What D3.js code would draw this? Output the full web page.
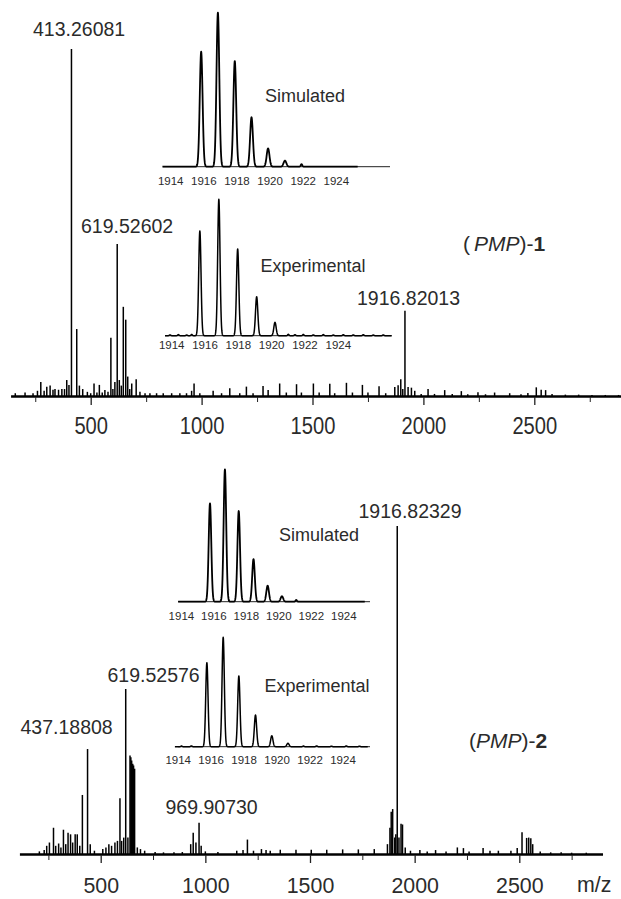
<!DOCTYPE html>
<html>
<head>
<meta charset="utf-8">
<script src="https://cdn.jsdelivr.net/npm/d3@7"></script>
<style>
  html, body { margin: 0; padding: 0; background: #fff; }
  svg { display: block; }
  text { font-family: "Liberation Sans", Arial, Helvetica, sans-serif; fill: #2b2b2b; }
</style>
</head>
<body>
<svg id="chart" width="621" height="899"></svg>
<script>
// ---------- spectrum data: [m/z, relative intensity %] ----------
const peaksPMP1 = [
  [160,0.8],[204,1.0],[240,0.8],[260,1.5],[275,4.0],[290,1.5],[302,2.7],[317,3.0],[330,1.8],
  [339,2.0],[355,1.8],[370,2.0],[382,2.0],[392,4.6],[402,3.2],[413.26,100],[437,19.3],[449,3.0],
  [464,2.0],[485,1.2],[500,0.8],[515,3.6],[528,1.0],[539,3.2],[552,1.0],[564,1.7],[578,1.2],
  [591,16.8],[600,2.0],[609,4.0],[619.53,43.8],[629,4.6],[638,3.0],[647,25.7],[658,22.0],
  [667,5.6],[676,2.0],[685,3.6],[705,4.8],[722,1.2],[745,0.8],[767,0.8],[797,0.8],[827,0.8],
  [865,0.8],[902,0.8],[932,0.8],[955,1.5],[966,3.6],[992,0.8],[1052,1.5],[1090,0.8],[1127,2.2],
  [1172,0.8],[1202,2.7],[1232,0.8],[1277,2.9],[1300,1.7],[1352,3.6],[1382,1.0],[1428,3.4],
  [1450,1.0],[1504,3.6],[1530,1.0],[1578,3.5],[1600,0.8],[1653,3.8],[1680,1.0],[1725,3.2],
  [1750,1.0],[1800,2.8],[1830,0.8],[1871,2.6],[1886,3.1],[1898,4.8],[1907,2.0],[1916.82,24.6],
  [1931,2.6],[1946,2.4],[1961,1.5],[1990,0.6],[2021,2.0],[2050,0.6],[2096,1.7],[2130,0.6],
  [2171,1.4],[2200,0.5],[2246,1.1],[2280,0.5],[2321,1.0],[2389,0.8],[2440,0.5],[2471,0.9],
  [2509,2.5],[2531,1.8],[2551,1.7],[2580,0.6],[2640,0.4],[2700,0.4],[2760,0.3],[2820,0.3],[2880,0.3]
];

const peaksPMP2 = [
  [207,0.8],[230,1.2],[242,2.5],[255,3.5],[274.5,8.0],[285,2.5],[299,3.2],[310,2.0],[322,7.4],
  [333,3.0],[344,6.5],[356,6.0],[366,3.5],[378,6.0],[388,6.0],[400,2.5],[412.5,18.0],[437.19,32.0],
  [450,3.0],[470,1.0],[510,1.5],[525,2.0],[539,3.0],[552,2.5],[568,3.5],[580,4.0],[592,17.0],
  [600,4.0],[610,5.0],[619.53,50.3],[630,5.0],[640,30.0],[644,29.5],[648,28.5],[653,27.5],
  [657,27.0],[662,26.0],[675,2.0],[690,1.5],[710,1.0],[760,0.6],[800,0.5],[850,0.5],[890,0.6],
  [930,3.0],[942,6.5],[955,3.5],[969.91,9.5],[980,2.5],[1000,0.8],[1060,0.6],[1150,1.0],
  [1180,1.2],[1201,4.4],[1230,1.0],[1268,1.5],[1290,1.2],[1310,1.0],[1358,1.3],[1433,1.3],
  [1506,1.3],[1580,1.3],[1656,1.4],[1731,1.4],[1807,1.5],[1870,3.0],[1882,8.0],[1888,12.9],
  [1895,13.7],[1905,5.0],[1910,6.0],[1916.82,100],[1925,5.0],[1935,9.2],[1942,9.0],[1955,2.0],
  [1980,1.0],[2025,1.2],[2060,0.8],[2100,1.2],[2150,0.8],[2204,2.0],[2233,1.8],[2260,0.8],
  [2327,1.8],[2360,1.0],[2400,1.0],[2460,1.0],[2490,1.8],[2513,6.6],[2535,4.9],[2545,5.0],
  [2555,4.8],[2564,3.0],[2600,0.8],[2650,0.5],[2700,0.5],[2750,0.4],[2820,0.4]
];

// labelled peaks: [m/z, text]
const labelsPMP1 = [[413.26, "413.26081"], [619.53, "619.52602"], [1916.82, "1916.82013"]];
const labelsPMP2 = [[437.19, "437.18808"], [619.53, "619.52576"], [969.91, "969.90730"], [1916.82, "1916.82329"]];

// ---------- isotope pattern insets: [m/z, relative intensity %] ----------
const simPMP1 = [[1915.84,74.7],[1916.85,100],[1917.87,68.6],[1918.88,32.1],[1919.88,11.9],[1920.9,3.9],[1921.9,1.6]];
const expPMP1 = [[1915.69,76.8],[1916.83,100],[1917.96,63.6],[1919.1,28.6],[1920.2,9.8],
  [1913.9,0.6],[1914.4,0.8],[1914.9,0.5],[1915.2,0.9],[1921.0,1.0],[1921.4,0.7],[1921.9,0.9],
  [1922.5,0.6],[1923.1,0.8],[1923.7,0.5],[1924.3,0.7],[1924.9,0.6],[1925.5,0.7],[1926.1,0.5],[1926.7,0.6]];
const simPMP2 = [[1915.76,74.3],[1916.68,100],[1917.53,68.5],[1918.44,32.2],[1919.31,12.1],[1920.19,4.1],[1921.07,1.3]];
const expPMP2 = [[1915.74,76.8],[1916.73,100],[1917.68,64.6],[1918.69,29.0],[1919.68,10.0],[1920.66,3.1],
  [1914.2,0.6],[1914.8,0.7],[1921.6,0.6],[1922.4,0.7],[1923.3,0.5],[1924.2,0.7],[1925.0,0.5]];

const insetTicks = [1914, 1916, 1918, 1920, 1922, 1924];
const mainTicks = d3.range(250, 2751, 250);
const mainLabels = [500, 1000, 1500, 2000, 2500];

const svg = d3.select("#chart");
const FONT = '"Liberation Sans", Arial, Helvetica, sans-serif';

// ---------- main spectrum panel ----------
function drawPanel(cfg) {
  const x = d3.scaleLinear().domain([500, 2500]).range(cfg.xRange);
  const y = d3.scaleLinear().domain([0, 100]).range([cfg.base, cfg.top]);
  const g = svg.append("g");

  // sticks
  g.selectAll("line.peak").data(cfg.peaks).join("line")
    .attr("class", "peak")
    .attr("x1", d => x(d[0])).attr("x2", d => x(d[0]))
    .attr("y1", y(0)).attr("y2", d => y(d[1]))
    .attr("stroke", "#000").attr("stroke-width", 1.5);

  // axis line
  g.append("line")
    .attr("x1", x(cfg.axisMz[0])).attr("x2", x(cfg.axisMz[1]))
    .attr("y1", y(0) + 0.5).attr("y2", y(0) + 0.5)
    .attr("stroke", "#000").attr("stroke-width", 2.4);

  const axis = d3.axisBottom(x)
    .tickValues(mainTicks)
    .tickSize(0)
    .tickFormat(d => mainLabels.includes(d) ? d : "");
  const ag = g.append("g").attr("transform", `translate(0,${y(0) + 1})`).call(axis);
  ag.select(".domain").remove();
  ag.selectAll(".tick line")
    .attr("y2", d => mainLabels.includes(d) ? 8 : 5)
    .attr("stroke", "#222")
    .attr("stroke-width", d => mainLabels.includes(d) ? 1.3 : 1);
  ag.selectAll(".tick text")
    .attr("y", cfg.labelDy).attr("dy", 0)
    .attr("font-family", FONT)
    .attr("font-size", cfg.labelSize)
    .attr("fill", "#2b2b2b")
    .attr("transform", `scale(${cfg.labelScaleX},1)`);

  // peak annotations
  cfg.labels.forEach(([mz, txt], i) => {
    const p = cfg.labelPos[i];
    g.append("text")
      .attr("x", p[0]).attr("y", p[1])
      .attr("font-size", 19.5)
      .text(txt);
  });
  return { x, y, g };
}

// ---------- isotope inset ----------
function drawInset(cfg) {
  const x = d3.scaleLinear().domain([1914, 1924]).range(cfg.xRange);
  const y = d3.scaleLinear().domain([0, 100]).range([cfg.base, cfg.base - cfg.height]);
  const g = svg.append("g");

  // thin axis line
  g.append("line")
    .attr("x1", cfg.axisPx[0]).attr("x2", cfg.axisPx[1])
    .attr("y1", cfg.base).attr("y2", cfg.base)
    .attr("stroke", "#222").attr("stroke-width", 1);

  // profile trace built from the peak list (small features are narrow specks)
  const sigma = cfg.sigma;
  const xs = d3.range(cfg.traceMz[0], cfg.traceMz[1], 0.01);
  const pts = xs.map(m => [m, d3.sum(cfg.peaks, p => p[1] * Math.exp(-0.5 * ((m - p[0]) / (p[1] > 2 ? sigma : sigma * 0.6)) ** 2))]);
  g.append("path")
    .datum(pts)
    .attr("fill", "none").attr("stroke", "#000")
    .attr("stroke-width", cfg.strokeW)
    .attr("stroke-linejoin", "round")
    .attr("d", d3.line().x(d => x(d[0])).y(d => y(d[1])));

  // tick labels
  g.selectAll("text.tk").data(insetTicks).join("text")
    .attr("class", "tk")
    .attr("x", d => x(d)).attr("y", cfg.base + cfg.tickDy)
    .attr("text-anchor", "middle")
    .attr("font-size", 11.5)
    .text(d => d);

  g.append("text")
    .attr("x", cfg.titlePos[0]).attr("y", cfg.titlePos[1])
    .attr("font-size", 18)
    .text(cfg.title);
}

function compoundLabel(xp, yp, num, gap) {
  const t = svg.append("text").attr("x", xp).attr("y", yp).attr("font-size", 21);
  t.append("tspan").text("(");
  t.append("tspan").attr("dx", gap).attr("font-style", "italic").text("PMP");
  t.append("tspan").text(")-");
  t.append("tspan").attr("font-weight", "bold").text(num);
}

// top spectrum, (PMP)-1
drawPanel({
  peaks: peaksPMP1, labels: labelsPMP1,
  labelPos: [[33, 36], [81, 232.5], [357, 305]],
  xRange: [90.7, 534.3], base: 396, top: 49,
  axisMz: [141, 2900], labelDy: 37, labelSize: 24, labelScaleX: 0.84
});
drawInset({
  peaks: simPMP1, xRange: [170.7, 336.3], base: 166.7, height: 154,
  axisPx: [163, 390], traceMz: [1913.5, 1925.3], sigma: 0.085, strokeW: 1.8,
  tickDy: 18.5, title: "Simulated", titlePos: [265, 101.7]
});
drawInset({
  peaks: expPMP1, xRange: [171.7, 338.3], base: 335.7, height: 136.4,
  axisPx: [165, 391.7], traceMz: [1913.6, 1927.2], sigma: 0.07, strokeW: 1.5,
  tickDy: 13.5, title: "Experimental", titlePos: [260.5, 271.7]
});
compoundLabel(463, 251, "1", 4);

// bottom spectrum, (PMP)-2
drawPanel({
  peaks: peaksPMP2, labels: labelsPMP2,
  labelPos: [[20.5, 734.3], [107.5, 681.7], [165.5, 814], [358.5, 518.3]],
  xRange: [100.7, 519.3], base: 854, top: 526,
  axisMz: [114, 2900], labelDy: 38, labelSize: 22.5, labelScaleX: 0.95
});
drawInset({
  peaks: simPMP2, xRange: [181.4, 343.8], base: 601.7, height: 132.4,
  axisPx: [178, 370], traceMz: [1913.8, 1925.3], sigma: 0.08, strokeW: 1.8,
  tickDy: 18.5, title: "Simulated", titlePos: [279, 541]
});
drawInset({
  peaks: expPMP2, xRange: [178.2, 343], base: 746.7, height: 109.4,
  axisPx: [178, 370], traceMz: [1913.8, 1925.5], sigma: 0.07, strokeW: 1.5,
  tickDy: 17.3, title: "Experimental", titlePos: [264.5, 691.7]
});
compoundLabel(469, 747.7, "2", 0);

// axis title
svg.append("text")
  .attr("x", 577).attr("y", 892)
  .attr("font-size", 22.5)
  .attr("transform", "translate(577,0) scale(0.95,1) translate(-577,0)")
  .text("m/z");
</script>
</body>
</html>
